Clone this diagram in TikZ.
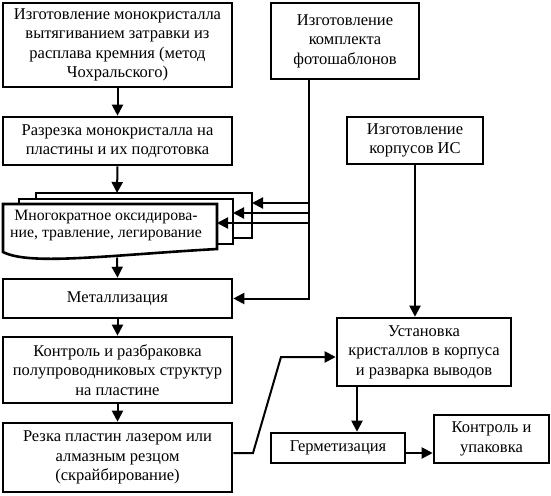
\documentclass[tikz,border=0pt]{standalone}
\usepackage{fontspec}
\setmainfont{Liberation Serif}
\usetikzlibrary{arrows.meta}
\begin{document}
\begin{tikzpicture}[x=1pt,y=-1pt,
  box/.style={draw,line width=2.6pt,fill=white,align=center,inner sep=0pt,font=\fontsize{16.5}{19.5}\selectfont},
  ln/.style={line width=2pt},
  arr/.style={line width=2pt,-{Triangle[length=11pt,width=11pt]}},
  sheet/.style={draw,fill=white,line width=2.6pt}]
\useasboundingbox (0,0) rectangle (551,495);
% left column
\node[box,minimum width=229pt,minimum height=84pt] (b1) at (117.5,45)
  {Изготовление монокристалла\\вытягиванием затравки из\\расплава кремния (метод\\Чохральского)};
\node[box,minimum width=229pt,minimum height=48pt] (b2) at (117.5,141)
  {Разрезка монокристалла на\\пластины и их подготовка};
% multi-document shape
\draw[sheet] (36,193) rectangle (252,238);
\draw[sheet] (19,199) rectangle (233,244);
\draw[sheet] (3,204) -- (217,204) -- (217,249) .. controls (110,255) and (30,266) .. (3,252) -- cycle;
\node[align=center,inner sep=0pt,font=\fontsize{15.8}{17}\selectfont] (md) at (106,226)
  {Многократное оксидирова-\\ние, травление, легирование};
\coordinate (mdT) at (117,193);
\coordinate (mdB) at (117,257.5);
\coordinate (mdA) at (252,203);
\coordinate (mdM) at (233,213);
\coordinate (mdF) at (217,223);
\node[box,minimum width=229pt,minimum height=39pt] (met) at (117.5,298.5) {Металлизация};
\node[box,minimum width=229pt,minimum height=66pt] (b6) at (117.5,370)
  {Контроль и разбраковка\\полупроводниковых структур\\на пластине};
\node[box,minimum width=229pt,minimum height=69pt] (b7) at (117.5,457.5)
  {Резка пластин лазером или\\алмазным резцом\\(скрайбирование)};
% right column
\node[box,minimum width=148pt,minimum height=76pt] (ph) at (345,41)
  {Изготовление\\комплекта\\фотошаблонов};
\node[box,minimum width=136pt,minimum height=47pt] (ic) at (415,140.5)
  {Изготовление\\корпусов ИС};
\node[box,minimum width=174pt,minimum height=68pt] (b9) at (424,352)
  {Установка\\кристаллов в корпуса\\и разварка выводов};
\node[box,minimum width=134pt,minimum height=30pt] (g) at (338,448) {Герметизация};
\node[box,minimum width=115pt,minimum height=48pt] (k) at (491.5,439)
  {Контроль и\\упаковка};
% connectors
\draw[arr] (b1.south) -- (b2.north);
\draw[arr] (b2.south) -- (mdT);
\draw[arr] (mdB) -- (met.north);
\draw[arr] (met.south) -- (b6.north);
\draw[arr] (b6.south) -- (b7.north);
\coordinate (phb) at ([xshift=-36pt]ph.south);
\draw[arr] (phb) |- (met.east);
\draw[arr] (phb |- mdA) -- (mdA);
\draw[arr] (phb |- mdM) -- (mdM);
\draw[arr] (phb |- mdF) -- (mdF);
\coordinate (b7o) at ([yshift=4.5pt]b7.east);
\coordinate (k1) at (253,453);
\coordinate (k2) at (281,357);
\draw[arr] (b7o) -- (k1) -- (k2) -- (k2 -| b9.west);
\draw[arr] (ic.south) -- (ic.south |- b9.north);
\coordinate (b9o) at ([xshift=-67pt]b9.south);
\draw[arr] (b9o) -- (b9o |- g.north);
\coordinate (go) at ([yshift=-5pt]g.east);
\draw[arr] (go) -- (go -| k.west);
\end{tikzpicture}
\end{document}
